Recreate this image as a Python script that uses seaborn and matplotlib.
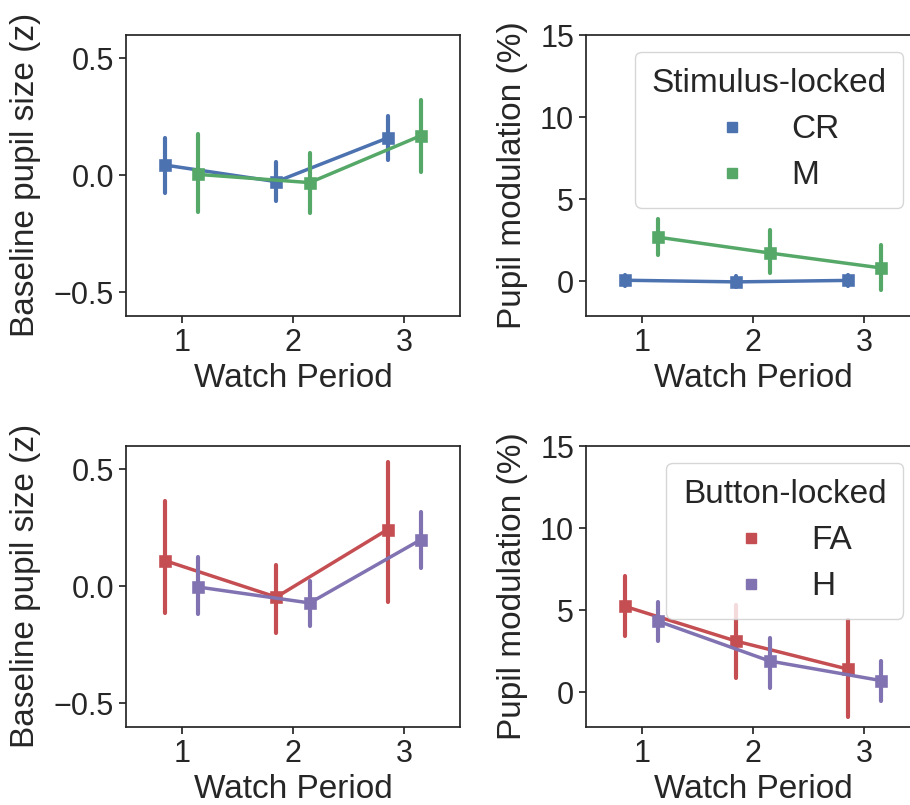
import numpy as np
import pandas as pd
import matplotlib
matplotlib.use("Agg")
import matplotlib.pyplot as plt
from matplotlib.lines import Line2D
import seaborn as sns

# ---- data (median with lower / upper error bar limits) ----
periods = ["1", "2", "3"]

# Top-left: baseline pupil size, stimulus-locked
base_CR = [0.044, -0.027, 0.160]
base_CR_lo = [-0.074, -0.109, 0.064]
base_CR_hi = [0.160, 0.057, 0.255]
base_M = [0.004, -0.031, 0.170]
base_M_lo = [-0.156, -0.162, 0.014]
base_M_hi = [0.175, 0.097, 0.323]

# Top-right: pupil modulation, stimulus-locked
mod_CR = [0.06, -0.04, 0.05]
mod_CR_lo = [-0.30, -0.38, -0.28]
mod_CR_hi = [0.40, 0.30, 0.38]
mod_M = [2.68, 1.72, 0.81]
mod_M_lo = [1.58, 0.53, -0.55]
mod_M_hi = [3.81, 3.10, 2.19]

# Bottom-left: baseline pupil size, button-locked
base_FA = [0.110, -0.046, 0.243]
base_FA_lo = [-0.114, -0.200, -0.069]
base_FA_hi = [0.364, 0.093, 0.531]
base_H = [-0.003, -0.071, 0.200]
base_H_lo = [-0.117, -0.169, 0.079]
base_H_hi = [0.124, 0.024, 0.317]

# Bottom-right: pupil modulation, button-locked
mod_FA = [5.23, 3.11, 1.41]
mod_FA_lo = [3.43, 0.89, -1.53]
mod_FA_hi = [7.11, 5.30, 4.38]
mod_H = [4.32, 1.90, 0.71]
mod_H_lo = [3.13, 0.24, -0.56]
mod_H_hi = [5.50, 3.32, 1.90]

stim_levels = ["CR", "M"]
button_levels = ["FA", "H"]
stim_colors = ["#4C72B0", "#55A868"]
button_colors = ["#C44E52", "#8172B2"]


def long_frame(series):
    rows = []
    for name, (mid, lo, hi) in series.items():
        for p, m, l, h in zip(periods, mid, lo, hi):
            for v in (l, m, h):
                rows.append({"Watch Period": p, "cond": name, "value": v})
    return pd.DataFrame(rows)


df_tl = long_frame({"CR": (base_CR, base_CR_lo, base_CR_hi),
                    "M": (base_M, base_M_lo, base_M_hi)})
df_tr = long_frame({"CR": (mod_CR, mod_CR_lo, mod_CR_hi),
                    "M": (mod_M, mod_M_lo, mod_M_hi)})
df_bl = long_frame({"FA": (base_FA, base_FA_lo, base_FA_hi),
                    "H": (base_H, base_H_lo, base_H_hi)})
df_br = long_frame({"FA": (mod_FA, mod_FA_lo, mod_FA_hi),
                    "H": (mod_H, mod_H_lo, mod_H_hi)})

sns.set_theme(style="ticks")
plt.rcParams["font.family"] = ["Liberation Sans", "DejaVu Sans"]
plt.rcParams["axes.edgecolor"] = "#262626"
plt.rcParams["axes.linewidth"] = 1.25
plt.rcParams["xtick.major.size"] = 5
plt.rcParams["ytick.major.size"] = 5
plt.rcParams["xtick.major.width"] = 1.25
plt.rcParams["ytick.major.width"] = 1.25

W, H = 910, 805
fig = plt.figure(figsize=(W / 100, H / 100), dpi=100)

lx, rx = 126 / W, 586 / W
aw = 334 / W
ah = 280.7 / H
ty = 1 - 315.7 / H
by = 1 - 726.7 / H

ax_tl = fig.add_axes([lx, ty, aw, ah])
ax_tr = fig.add_axes([rx, ty, aw, ah])
ax_bl = fig.add_axes([lx, by, aw, ah])
ax_br = fig.add_axes([rx, by, aw, ah])

TICK = 22
LABEL = 24


def draw(ax, df, order, colors, ylabel, ylim, yticks, yfmt):
    sns.pointplot(data=df, x="Watch Period", y="value", hue="cond",
                  hue_order=order, order=periods, palette=colors,
                  estimator="median", errorbar=("pi", 100),
                  dodge=0.3, markers="s", linestyles="-",
                  markersize=7.5, linewidth=2.5,
                  err_kws={"linewidth": 3.0},
                  legend=False, ax=ax)
    ax.set_ylim(*ylim)
    ax.set_yticks(yticks)
    ax.set_yticklabels([yfmt(t) for t in yticks])
    ax.set_xlim(-0.5, 2.5)
    ax.set_xlabel("Watch Period", fontsize=LABEL, color="#262626",
                  labelpad=4)
    ax.set_ylabel(ylabel, fontsize=LABEL, color="#262626", labelpad=9)
    ax.tick_params(labelsize=TICK, colors="#262626")


fmt_base = lambda t: ("\u2212" if t < 0 else "") + f"{abs(t):.1f}"
fmt_mod = lambda t: f"{int(t)}"

draw(ax_tl, df_tl, stim_levels, stim_colors, "Baseline pupil size (z)",
     (-0.6, 0.6), [-0.5, 0.0, 0.5], fmt_base)
draw(ax_tr, df_tr, stim_levels, stim_colors, "Pupil modulation (%)",
     (-2.1, 15), [0, 5, 10, 15], fmt_mod)
draw(ax_bl, df_bl, button_levels, button_colors, "Baseline pupil size (z)",
     (-0.6, 0.6), [-0.5, 0.0, 0.5], fmt_base)
draw(ax_br, df_br, button_levels, button_colors, "Pupil modulation (%)",
     (-2.1, 15), [0, 5, 10, 15], fmt_mod)


def add_legend(ax, levels, colors, title):
    handles = [Line2D([], [], linestyle="none", marker="s", markersize=7,
                      color=c, label=l) for l, c in zip(levels, colors)]
    leg = ax.legend(handles=handles, title=title, loc="upper right",
                    fontsize=LABEL, title_fontsize=LABEL,
                    borderpad=0.5, labelspacing=0.45)
    for t in leg.get_texts():
        t.set_color("#262626")
    leg.get_title().set_color("#262626")


add_legend(ax_tr, stim_levels, stim_colors, "Stimulus-locked")
add_legend(ax_br, button_levels, button_colors, "Button-locked")

fig.savefig("out.png", dpi=100)
